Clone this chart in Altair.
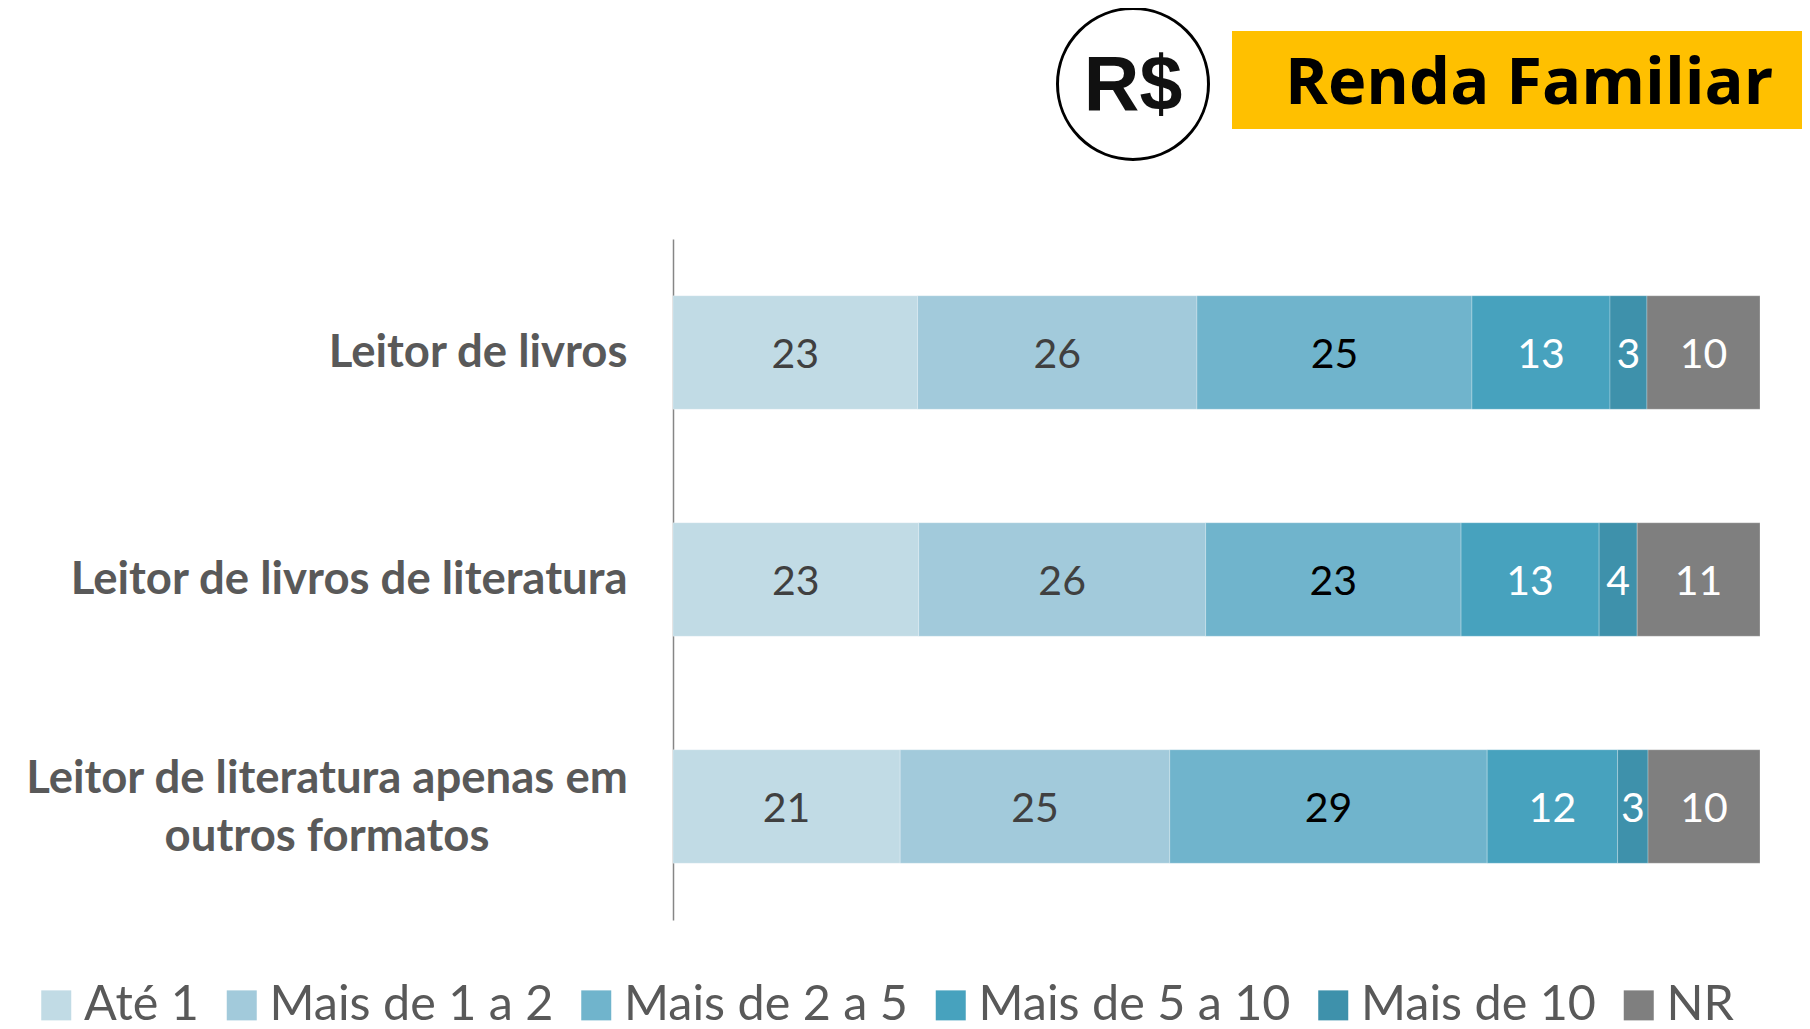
import altair as alt
import pandas as pd

categories = ["Leitor de livros", "Leitor de livros de literatura", "Leitor de literatura apenas em\noutros formatos"]
series = ["Até 1", "Mais de 1 a 2", "Mais de 2 a 5", "Mais de 5 a 10", "Mais de 10", "NR"]
widths = [
    [22.5, 25.7, 25.3, 12.7, 3.4, 10.4],
    [22.6, 26.4, 23.5, 12.7, 3.5, 11.3],
    [20.9, 24.8, 29.2, 12.0, 2.8, 10.3],
]
labels = [
    [23, 26, 25, 13, 3, 10],
    [23, 26, 23, 13, 4, 11],
    [21, 25, 29, 12, 3, 10],
]
colors = ["#c1dbe5", "#a2cadb", "#70b4cc", "#47a2be", "#3e91ab", "#7f7f7f"]
label_colors = ["#404040", "#404040", "#000000", "#ffffff", "#ffffff", "#ffffff"]

FONT = "Lato"
rows = []
for cat, vals, labs in zip(categories, widths, labels):
    start = 0.0
    for i, (s, v, l) in enumerate(zip(series, vals, labs)):
        rows.append(dict(cat=cat, serie=s, order=i, start=start, end=start + v, mid=start + v / 2, label=str(l)))
        start += v
df = pd.DataFrame(rows)

x_scale = alt.Scale(domain=[0, 100], nice=False, zero=False)
y_scale = alt.Scale(domain=categories, paddingInner=0.5, paddingOuter=0.25)

bars = alt.Chart(df).mark_bar(stroke="#ffffff", strokeWidth=1, strokeOpacity=0.25).encode(
    x=alt.X("start:Q", scale=x_scale, axis=None),
    x2="end:Q",
    y=alt.Y("cat:N", scale=y_scale, sort=categories, title=None, axis=alt.Axis(
        ticks=False, grid=False, domainColor="#868686", domainWidth=1.5,
        labelFont=FONT, labelFontWeight="bold", labelFontSize=45.5, labelColor="#595959",
        labelPadding=46, labelLimit=700,
        labelExpr="indexof(datum.label, 'apenas') >= 0 ? '' : datum.label")),
    color=alt.Color("serie:N", scale=alt.Scale(domain=series, range=colors), sort=series, legend=alt.Legend(
        title=None, orient="none", legendX=-641, legendY=742, columns=6, columnPadding=18.5,
        symbolType="square", symbolSize=900, symbolStrokeWidth=0, symbolOpacity=1,
        labelFont=FONT, labelFontSize=48.5, labelColor="#595959", labelOffset=3.5, labelLimit=500)),
)

values = alt.Chart(df).mark_text(font=FONT, fontSize=41, baseline="middle", dy=3).encode(
    x=alt.X("mid:Q", scale=x_scale),
    y=alt.Y("cat:N", scale=y_scale, sort=categories),
    text="label:N",
    color=alt.Color("serie:N", scale=alt.Scale(domain=series, range=label_colors), legend=None),
)

long_label = alt.Chart(pd.DataFrame({"cat": [categories[2]]})).mark_text(
    font=FONT, fontWeight="bold", fontSize=45.5, color="#595959", align="center",
    baseline="middle", lineBreak="\n", lineHeight=58, dy=-28,
).encode(
    x=alt.value(-346),
    y=alt.Y("cat:N", scale=y_scale, sort=categories),
    text="cat:N",
)

one = alt.Chart(pd.DataFrame({"a": [0]}))
badge = one.mark_rect(color="#ffc000").encode(
    x=alt.value(559), x2=alt.value(1129), y=alt.value(-208), y2=alt.value(-110))
title = one.mark_text(font="Open Sans", fontWeight="bold", fontSize=65, color="#000000", align="left", baseline="alphabetic").encode(
    x=alt.value(612), y=alt.value(-135), text=alt.value("Renda Familiar"))
circle = one.mark_point(shape="circle", filled=False, stroke="#000000", strokeWidth=3, size=22800, opacity=1).encode(
    x=alt.value(460), y=alt.value(-155))
currency = one.mark_text(font="Liberation Sans", fontWeight="bold", fontSize=77, color="#111111", align="center", baseline="alphabetic").encode(
    x=alt.value(460), y=alt.value(-129), text=alt.value("R$"))

chart = alt.layer(bars, values, long_label, badge, title, circle, currency).resolve_scale(
    color="independent"
).properties(
    width=1087, height=681,
    padding={"left": 665, "top": 231, "right": 42, "bottom": 109},
    autosize=alt.AutoSizeParams(type="none"),
    background="#ffffff",
).configure_view(stroke=None)

chart.save("out.html", embed_options={"renderer": "svg", "actions": False})
